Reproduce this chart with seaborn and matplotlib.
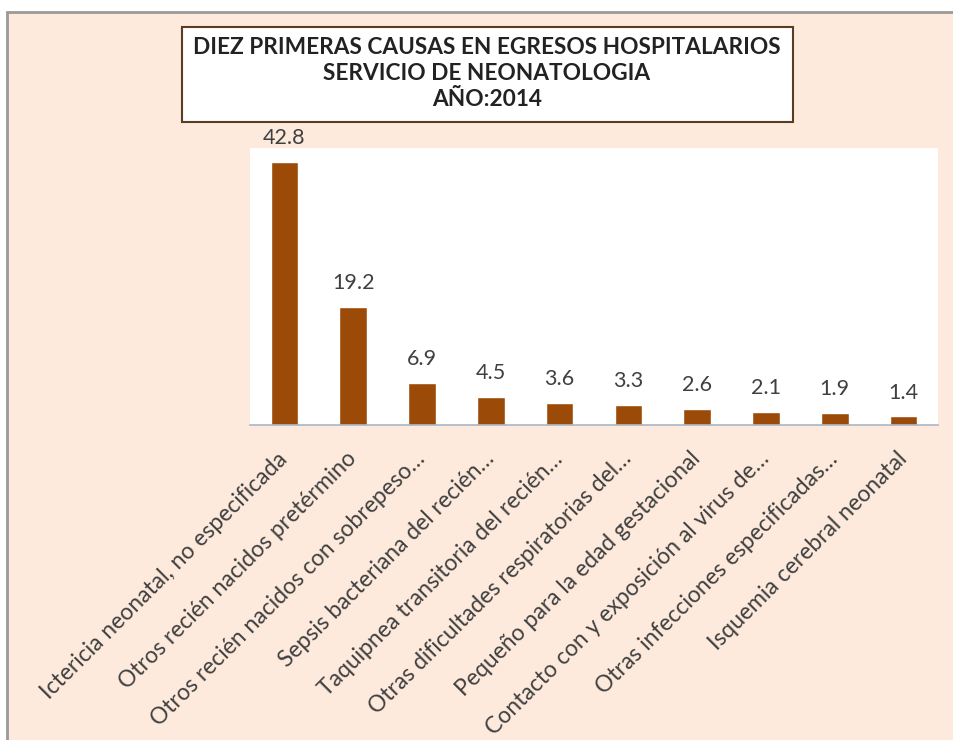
import matplotlib
matplotlib.use("Agg")
import matplotlib.pyplot as plt
import matplotlib.patches as mpatches
import seaborn as sns

# datos
causas = [
    "Ictericia neonatal, no especificada",
    "Otros recién nacidos pretérmino",
    "Otros recién nacidos con sobrepeso…",
    "Sepsis bacteriana del recién…",
    "Taquipnea transitoria del recién…",
    "Otras dificultades respiratorias del…",
    "Pequeño para la edad gestacional",
    "Contacto con y exposición al virus de…",
    "Otras infecciones especificadas…",
    "Isquemia cerebral neonatal",
]
porcentajes = [42.8, 19.2, 6.9, 4.5, 3.6, 3.3, 2.6, 2.1, 1.9, 1.4]
titulo = [
    "DIEZ PRIMERAS CAUSAS EN EGRESOS HOSPITALARIOS",
    "SERVICIO DE NEONATOLOGIA",
    "AÑO:2014",
]

BAR = "#9C4A08"
PEACH = "#FDEADC"
TXT = "#404040"

sns.set_theme(style="white")
plt.rcParams["font.family"] = ["Lato", "DejaVu Sans"]

W, H = 954, 740
fig = plt.figure(figsize=(W / 100, H / 100), dpi=100)
fig.patch.set_facecolor("white")

# fondo del área del gráfico (recortado a la derecha y abajo)
fig.add_artist(mpatches.Rectangle(
    (7 / W, -0.01), 1.0, (H - 12) / H + 0.01, transform=fig.transFigure,
    facecolor=PEACH, edgecolor="#9A9A9A", linewidth=2, zorder=0))

ax = fig.add_axes([250 / W, (H - 425) / H, (938 - 250) / W, (425 - 148) / H])
ax.set_facecolor("white")

sns.barplot(x=causas, y=porcentajes, color=BAR, saturation=1, width=0.4, ax=ax)

ax.set_ylim(0, 45.1)
ax.set_xlim(-0.5, len(causas) - 0.5)
ax.set_yticks([])
ax.set_xlabel("")
ax.set_ylabel("")
for s in ["top", "left", "right"]:
    ax.spines[s].set_visible(False)
ax.spines["bottom"].set_color("#A9B5C6")
ax.spines["bottom"].set_linewidth(1.2)

for i, v in enumerate(porcentajes):
    ax.annotate(f"{v:.1f}", (i, v), xytext=(0, 10), textcoords="offset points",
                ha="center", va="bottom", fontsize=15.5, color=TXT, clip_on=False)

ax.tick_params(axis="x", length=0, pad=22)
ax.set_xticks(range(len(causas)))
ax.set_xticklabels(causas, rotation=45, ha="right", va="center",
                   rotation_mode="anchor", fontsize=16.5, color=TXT)

# caja del título
fig.add_artist(mpatches.Rectangle(
    (182 / W, (H - 122) / H), (793 - 182) / W, 95 / H, transform=fig.transFigure,
    facecolor="white", edgecolor="#5A3C22", linewidth=1.5, zorder=2))
for k, linea in enumerate(titulo):
    fig.text(487 / W, (H - 47 - 26.5 * k) / H, linea, ha="center", va="center",
             fontsize=16.3, fontweight="bold", color="#222222", zorder=3)

fig.savefig("out.png", dpi=100, facecolor=fig.get_facecolor())
